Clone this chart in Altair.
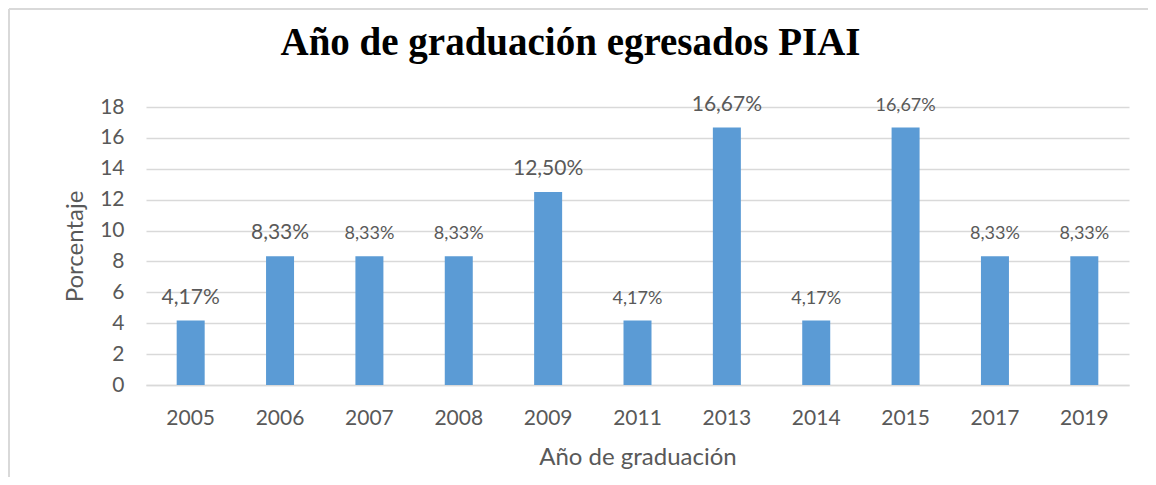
import altair as alt
import pandas as pd

years = ["2005", "2006", "2007", "2008", "2009", "2011", "2013", "2014", "2015", "2017", "2019"]
values = [4.17, 8.33, 8.33, 8.33, 12.50, 4.17, 16.67, 4.17, 16.67, 8.33, 8.33]
y_ticks = [0, 2, 4, 6, 8, 10, 12, 14, 16, 18]
big_label_years = ["2005", "2006", "2009", "2013"]

df = pd.DataFrame({
    "year": years,
    "value": values,
    "label": [f"{v:.2f}".replace(".", ",") + "%" for v in values],
})

FONT = "Lato"
GRAY_TXT = "#595959"
GRID = "#d9d9d9"

base = alt.Chart(df)

x_enc = alt.X(
    "year:N", sort=years,
    scale=alt.Scale(paddingInner=0, paddingOuter=0),
    axis=alt.Axis(title="Año de graduación", labelAngle=0, ticks=False,
                  domainColor=GRID, domainWidth=1.5, labelPadding=22,
                  titlePadding=17),
)
y_enc = alt.Y(
    "value:Q",
    scale=alt.Scale(domain=[0, 18], nice=False),
    axis=alt.Axis(title="Porcentaje", values=y_ticks, tickCount=10, ticks=False,
                  domain=False, labelOverlap=False,
                  gridColor=GRID, gridWidth=1.5, labelPadding=22, titlePadding=12),
)

bars = base.mark_bar(size=28, color="#5B9BD5").encode(x=x_enc, y=y_enc)

labels = base.mark_text(baseline="alphabetic", dy=-17, font=FONT, color=GRAY_TXT).encode(
    x=x_enc,
    y=y_enc,
    text="label:N",
    size=alt.condition(alt.FieldOneOfPredicate(field="year", oneOf=big_label_years),
                       alt.value(21), alt.value(18)),
)

frame_top = base.mark_rule(color=GRID, strokeWidth=2).encode(
    x=alt.value(-137), x2=alt.value(1002), y=alt.value(-98)
)
frame_left = base.mark_rule(color=GRID, strokeWidth=2).encode(
    x=alt.value(-137), y=alt.value(-98), y2=alt.value(370)
)

chart = alt.layer(frame_top, frame_left, bars, labels).properties(
    width=983,
    height=278,
    padding={"left": 138, "top": 99, "right": 19, "bottom": 92},
    autosize=alt.AutoSizeParams(type="none"),
    title=alt.TitleParams(
        "Año de graduación egresados PIAI",
        font="Liberation Serif", fontSize=39, fontWeight="bold", color="#000000",
        anchor="middle", frame="group", dx=-67, offset=-55,
    ),
).configure_axis(
    labelFont=FONT, titleFont=FONT, labelColor=GRAY_TXT, titleColor=GRAY_TXT,
    labelFontSize=21, titleFontSize=24, titleFontWeight="normal",
).configure_view(stroke=None)

chart.save("out.html", embed_options={"renderer": "svg", "actions": False})
